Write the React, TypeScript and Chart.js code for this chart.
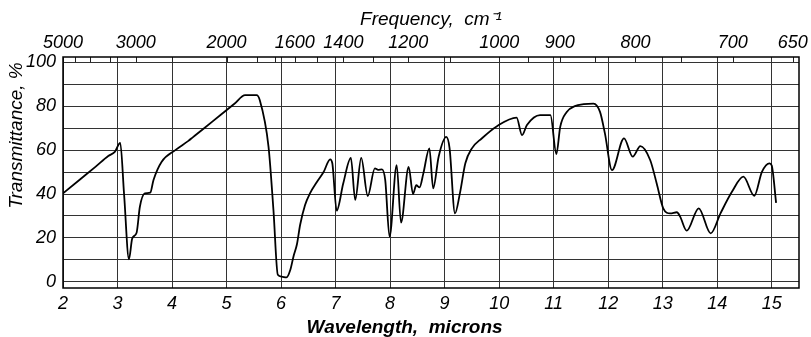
import React, { useEffect, useRef } from "react";
import { Chart, registerables } from "chart.js";

Chart.register(...registerables);

const WAVELENGTH = [
  2.0, 2.3, 2.6, 2.83, 2.95, 3.05, 3.12, 3.21, 3.27, 3.35, 3.41, 3.5, 3.6, 3.66, 3.81,
  4.06, 4.3, 4.38, 4.6, 4.9, 5.15, 5.34, 5.55, 5.61, 5.77, 5.86, 5.94, 6.01, 6.1, 6.17,
  6.23, 6.29, 6.35, 6.44, 6.53, 6.66, 6.78, 6.9, 6.94, 7.02, 7.14, 7.28, 7.36, 7.47, 7.59,
  7.72, 7.78, 7.85, 7.91, 7.99, 8.12, 8.2, 8.34, 8.42, 8.48, 8.54, 8.61, 8.72, 8.79, 8.89,
  9.03, 9.09, 9.19, 9.28, 9.38, 9.5, 9.68, 9.96, 10.32, 10.42, 10.51, 10.75, 10.94, 11.05,
  11.12, 11.24, 11.39, 11.55, 11.73, 11.85, 11.94, 12.07, 12.29, 12.45, 12.59, 12.77,
  12.89, 13.01, 13.14, 13.26, 13.32, 13.44, 13.66, 13.88, 14.06, 14.27, 14.48, 14.68,
  14.82, 14.96, 15.0, 15.08,
];
const TRANSMITTANCE = [
  40.3, 46.4, 52.5, 57.3, 59.2, 63.3, 40, 10.3, 19.8, 22.4, 34.2, 40.3, 40.6, 46.4, 54.7,
  60, 64.2, 65.8, 70.2, 76.2, 81.2, 85, 85, 82.7, 61.5, 32.7, 3.2, 2.4, 2.0, 5.5,
  11.8, 17, 26, 35, 40.3, 45.6, 50, 55.8, 54, 32.4, 44.8, 56.5, 37.3, 56.5, 39.1,
  51.7, 51, 51.2, 46.4, 20.6, 53.2, 27, 52.4, 40, 44, 43, 49.4, 60.8, 42.6, 57,
  66, 61, 31.2, 40.3, 54, 60.8, 65.3, 70.9, 74.8, 66.8, 71.4, 75.9, 75.9, 58.2,
  70.6, 77.4, 80, 80.9, 81.2, 77.4, 67.6, 50.9, 65.3, 57, 61.8, 55.5,
  44.8, 33.5, 31.2, 31.7, 29.7, 23.3, 33.5, 22.1, 31.2, 41, 47.9, 39.2,
  50.1, 54, 53, 36,
];

const WAVELENGTH_TICKS = [2, 3, 4, 5, 6, 7, 8, 9, 10, 11, 12, 13, 14, 15];
const TRANSMITTANCE_TICKS = [0, 10, 20, 30, 40, 50, 60, 70, 80, 90, 100];
const FREQ_LABELS = [5000, 3000, 2000, 1600, 1400, 1200, 1000, 900, 800, 700, 650];
const FREQ_MINOR = [4500, 4000, 3500, 2500, 1800, 1700, 1500, 1300, 1100, 950, 850, 750];

const X_MIN = 2;
const X_MAX = 15.5;
const Y_MIN = -2.8;
const Y_MAX = 102.4;

const FONT = "'Liberation Sans', Arial, sans-serif";

const framePlugin = {
  id: "frame",
  afterDatasetsDraw(chart: any) {
    const { ctx, chartArea, scales } = chart;
    const x = scales.x;
    const y = scales.y;
    const y100 = y.getPixelForValue(100);
    ctx.save();
    ctx.strokeStyle = "#222";
    ctx.lineWidth = 1;
    [...FREQ_LABELS, ...FREQ_MINOR].forEach((f) => {
      const px = Math.round(x.getPixelForValue(10000 / f)) + 0.5;
      ctx.beginPath();
      ctx.moveTo(px, chartArea.top);
      ctx.lineTo(px, y100);
      ctx.stroke();
    });
    ctx.strokeStyle = "#000";
    ctx.lineWidth = 1.5;
    ctx.strokeRect(chartArea.left, chartArea.top, chartArea.right - chartArea.left, chartArea.bottom - chartArea.top);
    ctx.restore();
  },
};

export default function App() {
  const ref = useRef<HTMLCanvasElement | null>(null);
  useEffect(() => {
    if (!ref.current) return;
    const chart = new Chart(ref.current, {
      type: "line",
      data: {
        datasets: [
          {
            data: WAVELENGTH.map((w, i) => ({ x: w, y: TRANSMITTANCE[i] })),
            borderColor: "#000",
            borderWidth: 1.8,
            pointRadius: 0,
            cubicInterpolationMode: "monotone",
            fill: false,
          },
        ],
      },
      options: {
        animation: false,
        responsive: false,
        devicePixelRatio: 1,
        layout: { padding: { left: 0, right: 12, top: 0, bottom: 0 } },
        plugins: { legend: { display: false }, tooltip: { enabled: false } },
        scales: {
          x: {
            type: "linear",
            position: "bottom",
            min: X_MIN,
            max: X_MAX,
            afterBuildTicks: (s: any) => {
              s.ticks = WAVELENGTH_TICKS.map((v) => ({ value: v }));
            },
            afterFit: (s: any) => {
              s.height = 49;
            },
            grid: { color: "#333", lineWidth: 1, drawTicks: false },
            border: { display: false },
            ticks: {
              color: "#000",
              padding: 5,
              maxRotation: 0,
              autoSkip: false,
              font: { family: FONT, size: 18, style: "italic" },
              callback: (v: any) => String(v),
            },
            title: {
              display: true,
              text: "Wavelength,  microns          ",
              color: "#000",
              padding: { top: 0, bottom: 0 },
              font: { family: FONT, size: 19, style: "italic", weight: "bold", lineHeight: 1 },
            },
          },
          x2: {
            type: "linear",
            position: "top",
            min: X_MIN,
            max: X_MAX,
            afterBuildTicks: (s: any) => {
              s.ticks = FREQ_LABELS.map((f) => ({ value: 10000 / f }));
            },
            afterFit: (s: any) => {
              s.height = 57;
            },
            grid: { display: false, drawTicks: false },
            border: { display: false },
            ticks: {
              color: "#000",
              padding: 3,
              maxRotation: 0,
              autoSkip: false,
              font: { family: FONT, size: 18, style: "italic" },
              callback: (v: any) => String(Math.round(10000 / v / 50) * 50),
            },
            title: {
              display: true,
              text: "Frequency,  cm⁻¹",
              color: "#000",
              padding: { top: 8, bottom: 0 },
              font: { family: FONT, size: 19, style: "italic" },
            },
          },
          y: {
            type: "linear",
            min: Y_MIN,
            max: Y_MAX,
            afterBuildTicks: (s: any) => {
              s.ticks = TRANSMITTANCE_TICKS.map((v) => ({ value: v }));
            },
            afterFit: (s: any) => {
              s.width = 63;
            },
            grid: { color: "#333", lineWidth: 1, drawTicks: false },
            border: { display: false },
            ticks: {
              color: "#000",
              padding: 7,
              autoSkip: false,
              font: { family: FONT, size: 18, style: "italic" },
              callback: (v: any) => (v % 20 === 0 ? String(v) : ""),
            },
            title: {
              display: true,
              text: "Transmittance, % ",
              align: "end",
              color: "#000",
              padding: { top: 5, bottom: 0 },
              font: { family: FONT, size: 19, style: "italic" },
            },
          },
        },
      },
      plugins: [framePlugin],
    } as any);
    return () => chart.destroy();
  }, []);
  return (
    <div style={{ position: "fixed", left: 0, top: 0, width: 811, height: 337, background: "#fff" }}>
      <canvas ref={ref} width={811} height={337} />
    </div>
  );
}
